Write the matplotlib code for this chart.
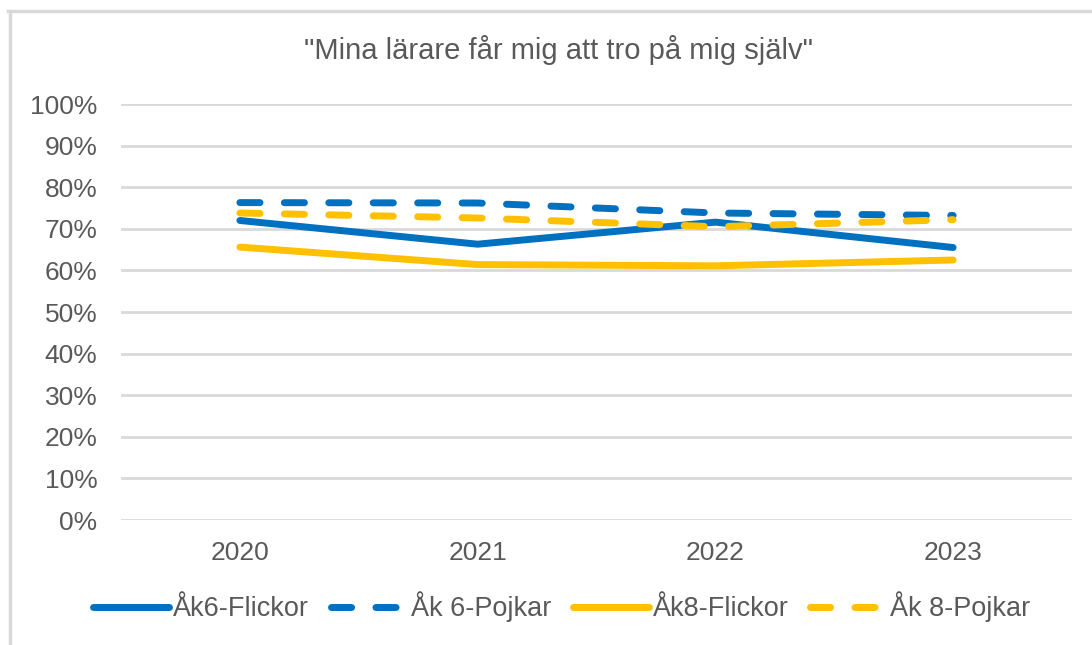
import matplotlib
matplotlib.use("Agg")
from matplotlib import pyplot as plt
from matplotlib.lines import Line2D

years = ["2020", "2021", "2022", "2023"]
ak6_flickor = [72.0, 66.3, 71.6, 65.5]
ak6_pojkar = [76.3, 76.2, 73.8, 73.2]
ak8_flickor = [65.6, 61.4, 61.1, 62.5]
ak8_pojkar = [73.8, 72.6, 70.5, 72.2]
y_ticks = [0, 10, 20, 30, 40, 50, 60, 70, 80, 90, 100]

blue = "#0070C0"
yellow = "#FFC000"
grey_text = "#595959"
grid_col = "#D9D9D9"

plt.rcParams["font.family"] = ["Liberation Sans", "DejaVu Sans"]

fig = plt.figure(figsize=(10.92, 6.45), dpi=100)
ax = fig.add_axes([121 / 1092, 1 - 520 / 645, (1072 - 121) / 1092, (520 - 104) / 645])

x = list(range(len(years)))
lw = 5
ax.plot(x, ak6_flickor, color=blue, lw=lw, solid_capstyle="round", label="Åk6-Flickor", zorder=3)
ax.plot(x, ak6_pojkar, color=blue, lw=lw, dashes=(2.9, 3.5), dash_capstyle="round", label="Åk 6-Pojkar", zorder=3)
ax.plot(x, ak8_flickor, color=yellow, lw=lw, solid_capstyle="round", label="Åk8-Flickor", zorder=3)
ax.plot(x, ak8_pojkar, color=yellow, lw=lw, dashes=(2.9, 3.5), dash_capstyle="round", label="Åk 8-Pojkar", zorder=3)

ax.set_xlim(-0.5, 3.5)
ax.set_ylim(0, 100)
ax.set_yticks(y_ticks)
ax.set_yticklabels([f"{v}%" for v in y_ticks])
ax.set_xticks(x)
ax.set_xticklabels(years)
ax.tick_params(axis="both", length=0, labelsize=19, colors=grey_text)
ax.tick_params(axis="y", pad=17)
ax.tick_params(axis="x", pad=15)
for s in ax.spines.values():
    s.set_visible(False)
ax.grid(axis="y", color=grid_col, lw=2)
ax.set_axisbelow(True)

fig.text(558 / 1092, 1 - 50 / 645, '"Mina lärare får mig att tro på mig själv"',
         ha="center", va="center", fontsize=21, color=grey_text)

leg = fig.legend(loc="center", bbox_to_anchor=(562 / 1092, 1 - 607 / 645), ncol=4,
                 frameon=False, fontsize=19.5, handlelength=2.8, handletextpad=0.15,
                 columnspacing=0.8, labelcolor=grey_text)

# outer chart border (top and left visible)
fig.add_artist(Line2D([8 / 1092, 1], [1 - 11 / 645, 1 - 11 / 645], color=grid_col, lw=2.5,
                      transform=fig.transFigure))
fig.add_artist(Line2D([10 / 1092, 10 / 1092], [0, 1 - 11 / 645], color=grid_col, lw=2.5,
                      transform=fig.transFigure))

fig.savefig("out.png", dpi=100)
